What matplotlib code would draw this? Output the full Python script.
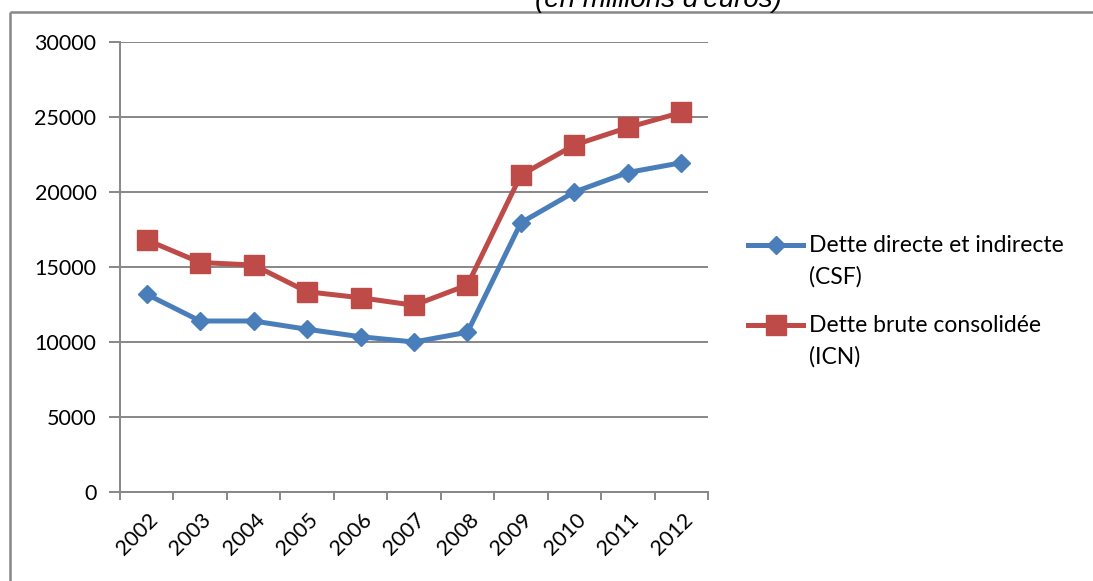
import matplotlib
matplotlib.use("Agg")
import matplotlib.pyplot as plt
from matplotlib.lines import Line2D
from matplotlib.transforms import ScaledTranslation

# Data (millions of euros)
years = ["2002", "2003", "2004", "2005", "2006", "2007", "2008", "2009", "2010", "2011", "2012"]
dette_csf = [13180, 11400, 11400, 10850, 10350, 10000, 10650, 17950, 20000, 21300, 21950]
dette_icn = [16800, 15300, 15130, 13350, 12950, 12450, 13800, 21130, 23130, 24300, 25300]
label_csf = "Dette directe et indirecte\n(CSF)"
label_icn = "Dette brute consolidée\n(ICN)"
title = "(en millions d'euros)"

blue = "#4A7EBB"
red = "#BE4B48"
grid_grey = "#878787"
body_font = "Lato"

W, H = 1093, 581
fig = plt.figure(figsize=(W / 100, H / 100), dpi=100)


def fx(px):
    return px / W


def fy(py):
    return 1 - py / H


# Plot area in pixel coordinates
left, right, top, bottom = 120, 708, 42, 492
ax = fig.add_axes([fx(left), fy(bottom), (right - left) / W, (bottom - top) / H])

series = [
    (dette_csf, label_csf, blue, "D", 9.6),
    (dette_icn, label_icn, red, "s", 14),
]

x = list(range(len(years)))
for values, label, color, marker, ms in series:
    ax.plot(x, values, color=color, lw=3.6, marker=marker, ms=ms, mec=color, mfc=color,
            label=label, zorder=3, solid_joinstyle="round")

ax.set_xlim(-0.5, len(years) - 0.5)
ax.set_ylim(0, 30000)
yticks = list(range(0, 30001, 5000))
ax.set_yticks(yticks)
ax.set_yticklabels([str(v) for v in yticks], fontfamily=body_font, fontsize=15.5)
ax.yaxis.grid(True, color=grid_grey, lw=1.4)
ax.set_axisbelow(True)

# Category labels centred, tick marks on the category boundaries
ax.set_xticks(x)
ax.set_xticklabels(years, rotation=45, ha="right", va="top", rotation_mode="anchor",
                   fontfamily=body_font, fontsize=15.5)
ax.tick_params(axis="x", which="major", length=0, pad=13)
shift = ScaledTranslation(1 / 100, 0, fig.dpi_scale_trans)
for lab in ax.get_xticklabels():
    lab.set_transform(lab.get_transform() + shift)
ax.set_xticks([i - 0.5 for i in range(len(years) + 1)], minor=True)
ax.tick_params(axis="x", which="minor", length=6, width=1.4, color=grid_grey, direction="out")
ax.tick_params(axis="y", length=8, width=1.4, color=grid_grey, direction="out", pad=9)

for side in ("top", "right"):
    ax.spines[side].set_visible(False)
for side in ("left", "bottom"):
    ax.spines[side].set_color(grid_grey)
    ax.spines[side].set_linewidth(1.4)

# Legend: key line with marker beside a two-line label
legend_rows = [251.7, 331.7]
for (values, label, color, marker, ms), base in zip(series, legend_rows):
    ky = base - 7
    fig.add_artist(Line2D([fx(748), fx(803)], [fy(ky), fy(ky)], transform=fig.transFigure,
                          color=color, lw=3.6))
    fig.add_artist(Line2D([fx(775.5)], [fy(ky)], transform=fig.transFigure, color=color,
                          marker=marker, ms=ms, mec=color, mfc=color, lw=0))
    for k, line in enumerate(label.split("\n")):
        fig.text(fx(809), fy(base + 31.5 * k), line, ha="left", va="baseline",
                 fontfamily=body_font, fontsize=16.5, color="black")

# Outer frame (left and top edges)
fig.add_artist(Line2D([fx(10), fx(10)], [0, fy(12)], transform=fig.transFigure,
                      color=grid_grey, lw=1.8, solid_capstyle="butt"))
fig.add_artist(Line2D([fx(10), 1], [fy(12), fy(12)], transform=fig.transFigure,
                      color=grid_grey, lw=1.8, solid_capstyle="butt"))

fig.text(fx(658), fy(7), title, ha="center", va="baseline", fontsize=20,
         fontstyle="italic", fontfamily="Liberation Sans")

fig.savefig("out.png", dpi=100, facecolor="white")
